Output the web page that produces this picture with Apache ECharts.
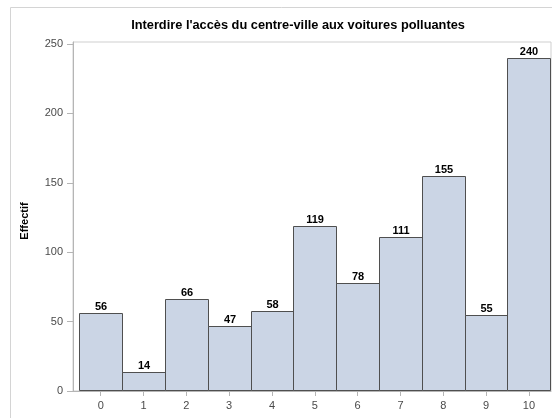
<!DOCTYPE html>
<html>
<head>
<meta charset="utf-8">
<script src="https://cdn.jsdelivr.net/npm/echarts@6/dist/echarts.min.js"></script>
<style>
  html, body { margin: 0; padding: 0; background: #fff; }
  #chart { width: 552px; height: 418px; }
</style>
</head>
<body>
<div id="chart"></div>
<script>
// Réponses (0 = pas du tout d'accord, 10 = tout à fait d'accord)
const categories = [0, 1, 2, 3, 4, 5, 6, 7, 8, 9, 10];
const effectifs = [56, 14, 66, 47, 58, 119, 78, 111, 155, 55, 240];
const yTicks = [0, 50, 100, 150, 200, 250];

const titleText = "Interdire l'accès du centre-ville aux voitures polluantes";
const yAxisName = 'Effectif';

const FONT = '"Liberation Sans", Arial, sans-serif';

const chart = echarts.init(document.getElementById('chart'), null, { renderer: 'canvas' });

const barData = categories.map((c, i) => [c, effectifs[i]]);

chart.setOption({
  animation: false,
  backgroundColor: '#ffffff',
  graphic: [
    {
      type: 'rect',
      shape: { x: 10.5, y: 7.5, width: 700, height: 600 },
      style: { fill: null, stroke: '#d4d4d4', lineWidth: 1 },
      silent: true,
      z: -1
    },
    {
      type: 'text',
      x: 298,
      y: 25,
      style: {
        text: titleText,
        font: 'bold 12.8px ' + FONT,
        fill: '#000',
        align: 'center',
        verticalAlign: 'middle'
      }
    },
    {
      type: 'text',
      x: 25,
      y: 221,
      rotation: Math.PI / 2,
      style: {
        text: yAxisName,
        font: 'bold 11px ' + FONT,
        fill: '#000',
        align: 'center',
        verticalAlign: 'middle'
      }
    }
  ],
  grid: {
    left: 73,
    right: 1,
    top: 42,
    bottom: 27,
    show: true,
    borderColor: '#cfcfcf',
    borderWidth: 1,
    backgroundColor: 'transparent'
  },
  xAxis: {
    type: 'value',
    min: -0.647,
    max: 10.516,
    splitLine: { show: false },
    axisLine: { show: true, onZero: false, lineStyle: { color: '#b5b5b5' } },
    axisTick: { show: true, length: 5, customValues: categories, lineStyle: { color: '#b5b5b5' } },
    axisLabel: {
      customValues: categories,
      color: '#4a4a4a',
      fontFamily: FONT,
      fontSize: 11,
      margin: 9
    }
  },
  yAxis: {
    type: 'value',
    min: 0,
    max: 251.5,
    splitLine: { show: false },
    axisLine: { show: true, onZero: false, lineStyle: { color: '#b5b5b5' } },
    axisTick: { show: true, length: 6, customValues: yTicks, lineStyle: { color: '#b5b5b5' } },
    axisLabel: {
      customValues: yTicks,
      color: '#4a4a4a',
      fontFamily: FONT,
      fontSize: 11,
      margin: 10
    }
  },
  series: [
    {
      type: 'custom',
      data: barData,
      clip: false,
      renderItem: function (params, api) {
        const x = api.value(0);
        const y = api.value(1);
        const p0 = api.coord([x - 0.5, y]);
        const p1 = api.coord([x + 0.5, 0]);
        const left = Math.round(p0[0]) + 0.5;
        const right = Math.round(p1[0]) + 0.5;
        const top = Math.round(p0[1]) + 0.5;
        const bottom = Math.round(p1[1]) - 0.5;
        return {
          type: 'group',
          children: [
            {
              type: 'rect',
              shape: { x: left, y: top, width: right - left, height: bottom - top },
              style: { fill: '#cbd5e5', stroke: '#4f4f4f', lineWidth: 1 }
            },
            {
              type: 'text',
              x: (left + right) / 2,
              y: top - 7,
              style: {
                text: String(y),
                font: 'bold 11px ' + FONT,
                fill: '#000',
                align: 'center',
                verticalAlign: 'middle'
              }
            }
          ]
        };
      }
    }
  ]
});
</script>
</body>
</html>
